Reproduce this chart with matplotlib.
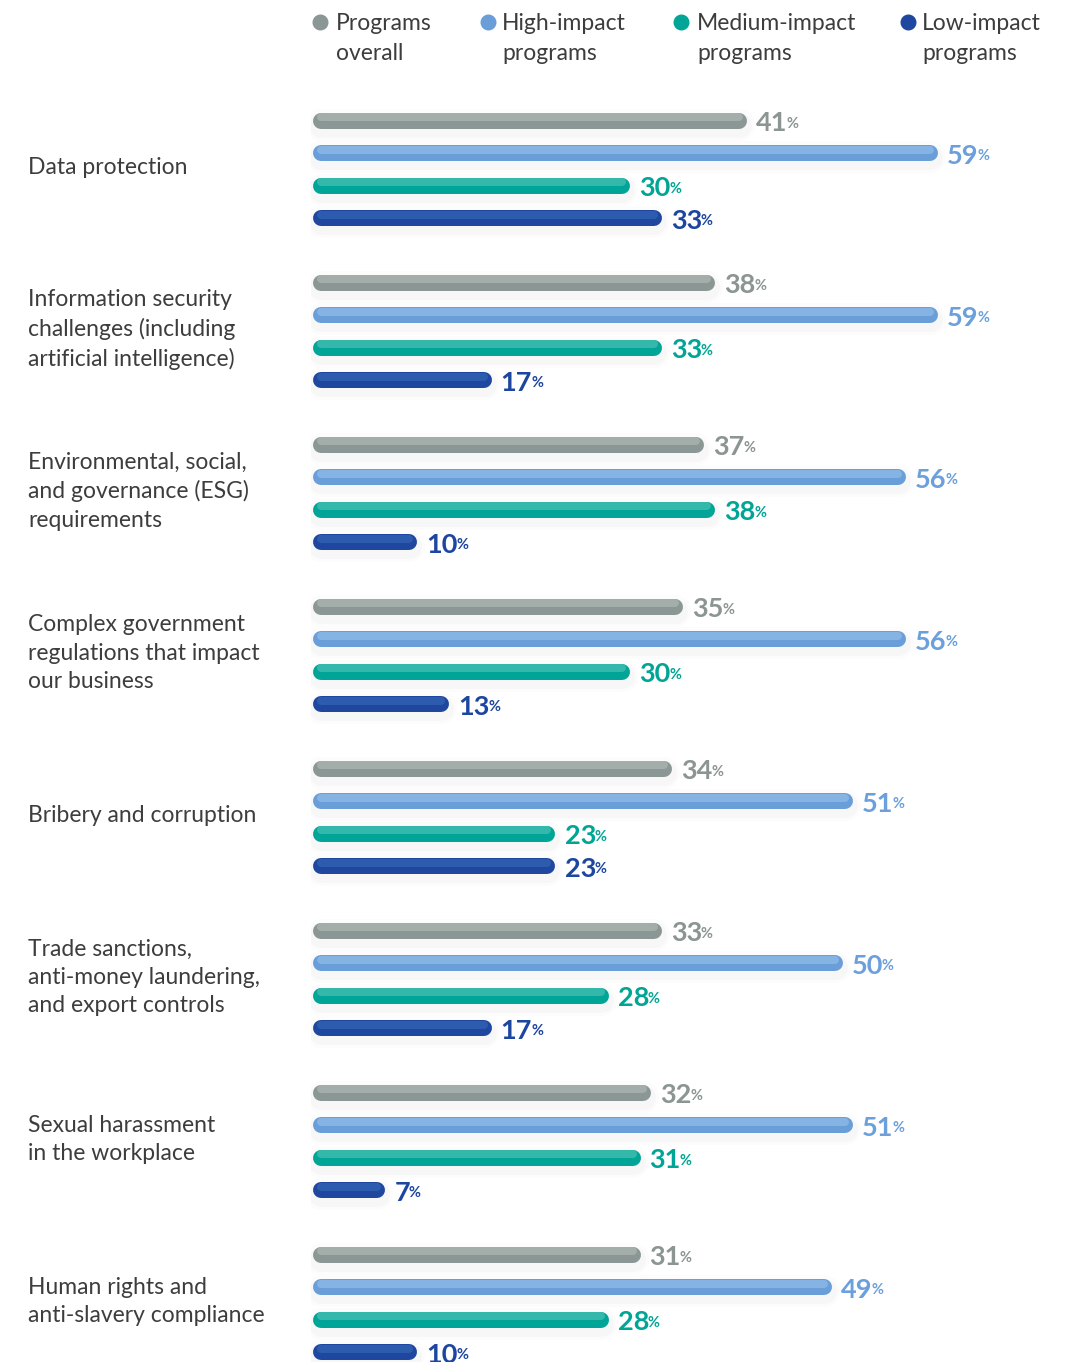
import matplotlib
matplotlib.use("Agg")
import matplotlib.pyplot as plt
import matplotlib.transforms as mtransforms

# ---------------- data ----------------
categories = [
    "Data protection",
    "Information security\nchallenges (including\nartificial intelligence)",
    "Environmental, social,\nand governance (ESG)\nrequirements",
    "Complex government\nregulations that impact\nour business",
    "Bribery and corruption",
    "Trade sanctions,\nanti-money laundering,\nand export controls",
    "Sexual harassment\nin the workplace",
    "Human rights and\nanti-slavery compliance",
]
series_names = ["Programs\noverall", "High-impact\nprograms", "Medium-impact\nprograms", "Low-impact\nprograms"]
overall = [41, 38, 37, 35, 34, 33, 32, 31]
high = [59, 59, 56, 56, 51, 50, 51, 49]
medium = [30, 33, 38, 30, 23, 28, 31, 28]
low = [33, 17, 10, 13, 23, 17, 7, 10]
series = [overall, high, medium, low]

# ---------------- style ----------------
base_colors = ["#8a9794", "#6a9ed8", "#00a597", "#1f47a0"]
top_colors = ["#a3aeab", "#85b3e4", "#34b8ac", "#2d5cae"]
label_colors = ["#8b9592", "#6ba0dc", "#00a595", "#1d46a0"]
text_color = "#3d3d3d"
FONT = ["Lato", "DejaVu Sans"]

W, H = 1072, 1362
fig = plt.figure(figsize=(W / 100, H / 100), dpi=100)
fig.patch.set_facecolor("white")

x0_px = 311.0
px_per_unit = 10.63
top_px = 121.0
group_px = 162.0
bar_step = 0.2  # in group units (~32 px)

ax = fig.add_axes([x0_px / W, 0, 1 - x0_px / W, 1])
ax.set_xlim(0, (W - x0_px) / px_per_unit)
ax.set_ylim((H - top_px) / group_px, -top_px / group_px)
ax.axis("off")

bar_px = 16
lw = bar_px * 72 / 100
cap = (bar_px / 2) / px_per_unit
left_start = cap + 2 / px_per_unit
dy_px = 1 / group_px

for j, vals in enumerate(series):
    for i, v in enumerate(vals):
        y = i + j * bar_step
        xs, xe = left_start, v - cap
        # soft shadow
        for extra, a in [(16, 0.02), (9, 0.03)]:
            ax.hlines(y + 4 * dy_px, xs, xe, colors="#7a7a7a", alpha=a,
                      linewidth=(bar_px + extra) * 72 / 100, capstyle="round", zorder=1)
        ax.hlines(y, xs, xe, colors=base_colors[j], linewidth=lw,
                  capstyle="round", zorder=2)
        ax.hlines(y - 3.5 * dy_px, xs, xe, colors=top_colors[j], linewidth=8 * 72 / 100,
                  capstyle="round", zorder=3)
        num = ax.annotate(str(v), xy=(v, y), xytext=(6.5, -7.5), textcoords="offset points",
                          ha="left", va="baseline", fontsize=19.5, fontweight="bold",
                          color=label_colors[j], family=FONT, zorder=4)
        ax.annotate("%", xy=(1, 0), xycoords=num, xytext=(-0.8, 3.2),
                    textcoords="offset points", ha="left", va="bottom",
                    fontsize=10.5, fontweight="bold", color=label_colors[j], family=FONT)

# category labels
trans = mtransforms.blended_transform_factory(fig.transFigure, ax.transData)
for i, cat in enumerate(categories):
    ax.text(28 / W, i + 0.285, cat, transform=trans, ha="left", va="center",
            fontsize=16.5, color=text_color, family=FONT, linespacing=1.43)

# legend
dot_x = [320, 488, 681, 908]
txt_x = [336, 502, 697, 922]
for j, name in enumerate(series_names):
    fig.lines.append(plt.Line2D([dot_x[j] / W], [1 - 22 / H], marker="o", markersize=10.5,
                                color=base_colors[j], transform=fig.transFigure))
    fig.text(txt_x[j] / W, 1 - 22 / H, name.split("\n")[0], ha="left", va="center_baseline",
             fontsize=16.5, color=text_color, family=FONT)
    fig.text(txt_x[j] / W, 1 - 52 / H, name.split("\n")[1], ha="left", va="center_baseline",
             fontsize=16.5, color=text_color, family=FONT)

fig.savefig("out.png", dpi=100, facecolor="white")
